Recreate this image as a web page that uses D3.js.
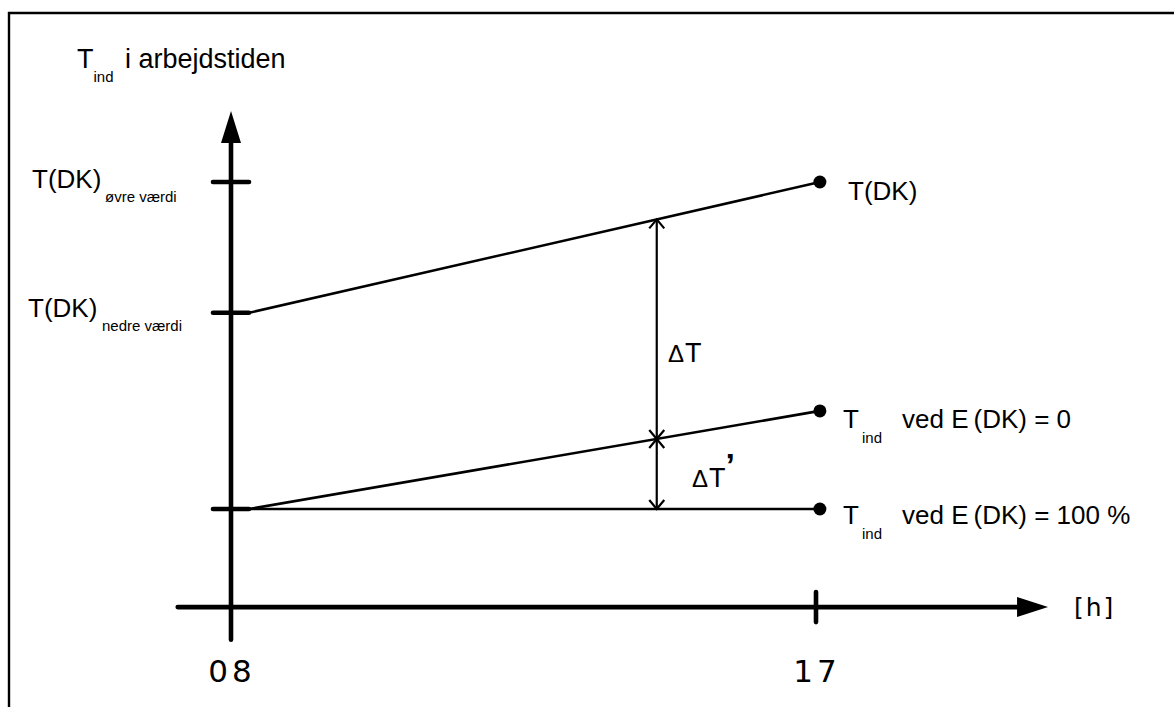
<!DOCTYPE html>
<html><head><meta charset="utf-8">
<script src="https://cdn.jsdelivr.net/npm/d3@7"></script>
<style>body{margin:0;background:#fff}svg{display:block}text{font-family:"Liberation Sans",Arial,sans-serif;fill:#000}</style>
</head><body>
<script>
// ---- data ----
const hours = [8, 17];                 // x tick positions
const xTickLabels = ["08", "17"];
const lineX = [8.28, 17.06];           // start / end hour of the three lines
const seriesTDK = [6, 10];             // T(DK)
const seriesE0 = [0, 3];               // T_ind ved E(DK) = 0
const seriesE100 = [0, 0];             // T_ind ved E(DK) = 100 %
const yTickValues = [0, 6, 10];        // baseline, nedre værdi, øvre værdi
const xAxisExtent = [7.18, 20.57];
const yAxisExtent = [-4.0, 12.17];
const xAxisAt = -3.0;
const deltaHour = 14.55;

const W = 1174, H = 707;
const svg = d3.select("body").append("svg").attr("width", W).attr("height", H);

const x = d3.scaleLinear().domain([8, 17]).range([231, 816]);
const y = d3.scaleLinear().domain([0, 10]).range([509, 182]);

// frame
svg.append("path").attr("d", `M9,${H+2} L9,13 L${W+2},13`).attr("fill","none").attr("stroke","#000").attr("stroke-width",2.4);

const AX = 4.6;
// y axis
svg.append("line").attr("x1", x(8)).attr("x2", x(8)).attr("y1", y(yAxisExtent[0])).attr("y2", y(yAxisExtent[1]) + 30)
  .attr("stroke","#000").attr("stroke-width",AX).attr("stroke-linecap","round");
const yt = y(yAxisExtent[1]);
svg.append("path").attr("d", `M${x(8)},${yt} L${x(8)-10},${yt+32} L${x(8)+10},${yt+32} Z`).attr("fill","#000");
// y ticks
svg.selectAll(".ytick").data(yTickValues).enter().append("line")
  .attr("x1", x(8)-18).attr("x2", x(8)+18).attr("y1", d=>y(d)).attr("y2", d=>y(d))
  .attr("stroke","#000").attr("stroke-width",AX).attr("stroke-linecap","round");

// x axis
const xa = y(xAxisAt);
const xt = x(xAxisExtent[1]);
svg.append("line").attr("x1", x(xAxisExtent[0])).attr("x2", xt - 28).attr("y1", xa).attr("y2", xa)
  .attr("stroke","#000").attr("stroke-width",AX).attr("stroke-linecap","round");
svg.append("path").attr("d", `M${xt},${xa} L${xt-31},${xa-10} L${xt-31},${xa+10} Z`).attr("fill","#000");
svg.append("line").attr("x1", x(17)).attr("x2", x(17)).attr("y1", xa-15).attr("y2", xa+15)
  .attr("stroke","#000").attr("stroke-width",AX).attr("stroke-linecap","round");
svg.selectAll(".xlab").data(hours).enter().append("text")
  .attr("x", d=>x(d)+1).attr("y", 682).attr("text-anchor","middle")
  .style("font-family","'DejaVu Sans'").style("font-size","31px").style("letter-spacing","4px")
  .text((d,i)=>xTickLabels[i]);
svg.append("text").attr("x", 1074).attr("y", 616)
  .style("font-family","'DejaVu Sans'").style("font-size","25px").style("letter-spacing","2px").text("[h]");

// lines
const line = d3.line().x((d,i)=>x(lineX[i])).y(d=>y(d));
[seriesTDK, seriesE0, seriesE100].forEach(s=>{
  svg.append("path").attr("d", line(s)).attr("fill","none").attr("stroke","#000").attr("stroke-width",2.6);
  svg.append("circle").attr("cx", x(lineX[1])).attr("cy", y(s[1])).attr("r", 6.5).attr("fill","#000");
});

// delta arrows
const interp = s => s[0] + (s[1]-s[0])*(deltaHour-lineX[0])/(lineX[1]-lineX[0]);
const dx = x(deltaHour);
const yTop = y(interp(seriesTDK)), yMid = y(interp(seriesE0)), yBot = y(interp(seriesE100));
svg.append("line").attr("x1",dx).attr("x2",dx).attr("y1",yTop).attr("y2",yBot).attr("stroke","#000").attr("stroke-width",2.2);
function chev(yy, dir){ // dir -1 = points up, +1 = points down
  svg.append("path").attr("d", `M${dx-7.5},${yy-dir*9} L${dx},${yy} L${dx+7.5},${yy-dir*9}`)
    .attr("fill","none").attr("stroke","#000").attr("stroke-width",2.2);
}
chev(yTop,-1); chev(yMid,1); chev(yMid,-1); chev(yBot,1);

// Delta labels
function delta(xx, yy, prime){
  const t = svg.append("text").attr("x", xx).attr("y", yy);
  t.append("tspan").style("font-size","24px").text("\u0394");
  t.append("tspan").attr("dx",1).style("font-size","27px").text("T");
  if(prime) t.append("tspan").attr("dx",0).attr("dy",-10).style("font-size","34px").style("font-weight","bold").text("\u2019");
}
delta(668, 362, false);
delta(692, 487, true);

// title
const ttl = svg.append("text").attr("x",77).attr("y",68).style("font-size","27px");
ttl.append("tspan").text("T");
ttl.append("tspan").attr("dy",14).style("font-size","15px").text("ind");
ttl.append("tspan").attr("x",125).attr("dy",-14).text("i arbejdstiden");

// left tick labels
function leftLab(xx, yy, sub, subx){
  const t = svg.append("text").attr("x", xx).attr("y", yy).style("font-size","26px");
  t.append("tspan").text("T(DK)");
  t.append("tspan").attr("x", subx).attr("dy",14).style("font-size","15px").text(sub);
}
leftLab(32, y(yTickValues[2])+6, "øvre værdi", 105);
leftLab(28, y(yTickValues[1])+4, "nedre værdi", 102);

// right labels
svg.append("text").attr("x",848).attr("y", y(seriesTDK[1])+18).style("font-size","26px").text("T(DK)");
function rightLab(yy, val){
  const t = svg.append("text").attr("x",843).attr("y",yy).style("font-size","26px");
  t.append("tspan").text("T");
  t.append("tspan").attr("x",862).attr("dy",15).style("font-size","15px").text("ind");
  t.append("tspan").attr("x",902).attr("dy",-15).text("ved E");
  t.append("tspan").attr("dx",5).text("(DK) = " + val);
}
rightLab(y(seriesE0[1])+17, "0");
rightLab(y(seriesE100[1])+15, "100 %");
</script>
</body></html>
